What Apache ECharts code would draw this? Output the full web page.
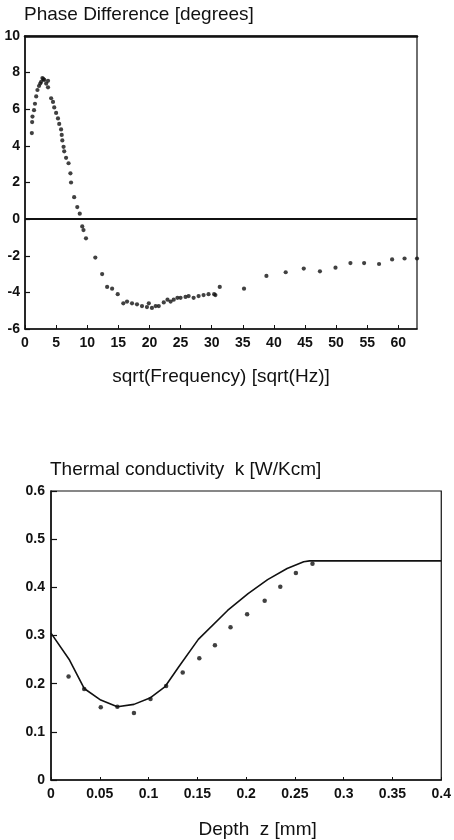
<!DOCTYPE html>
<html>
<head>
<meta charset="utf-8">
<script src="https://cdn.jsdelivr.net/npm/echarts@6/dist/echarts.min.js"></script>
<style>
html,body{margin:0;padding:0;background:#fff;}
#c{width:454px;height:840px;}
</style>
</head>
<body>
<div id="c"></div>
<script>
// ---- Top chart: phase difference vs sqrt(frequency) ----
var freqSqrt = [1.1,1.15,1.2,1.45,1.6,1.8,2.0,2.25,2.45,2.6,2.8,2.95,3.1,3.4,3.7,3.7,4.2,4.5,4.7,5.0,5.3,5.5,5.8,5.9,6.0,6.2,6.3,6.6,7.0,7.3,7.4,7.9,8.4,8.8,9.2,9.4,9.8,11.3,12.4,13.2,14.0,14.9,15.8,16.4,17.2,18.0,18.8,19.6,19.9,20.4,21.0,21.5,22.3,22.9,23.4,23.9,24.5,25.0,25.8,26.3,27.1,27.9,28.7,29.5,30.4,30.6,31.3,35.2,38.8,41.9,44.8,47.4,49.9,52.3,54.5,56.9,59.0,61.0,63.0];
var phaseDeg = [4.7,5.3,5.6,5.95,6.3,6.7,7.05,7.27,7.4,7.5,7.7,7.65,7.6,7.4,7.2,7.55,6.6,6.4,6.1,5.8,5.5,5.2,4.9,4.6,4.3,3.95,3.7,3.35,3.05,2.5,2.0,1.2,0.66,0.3,-0.4,-0.6,-1.05,-2.1,-3.0,-3.7,-3.8,-4.1,-4.6,-4.5,-4.6,-4.65,-4.75,-4.8,-4.6,-4.85,-4.75,-4.75,-4.55,-4.4,-4.5,-4.4,-4.3,-4.3,-4.25,-4.2,-4.3,-4.2,-4.15,-4.1,-4.1,-4.15,-3.7,-3.8,-3.1,-2.9,-2.7,-2.85,-2.65,-2.4,-2.4,-2.45,-2.2,-2.15,-2.15];
var phaseXTicks = [0,5,10,15,20,25,30,35,40,45,50,55,60];
var phaseYTicks = [-6,-4,-2,0,2,4,6,8,10];

// ---- Bottom chart: thermal conductivity vs depth ----
var depthLine = [0,0.019,0.034,0.051,0.068,0.085,0.102,0.117,0.131,0.151,0.181,0.202,0.222,0.242,0.259,0.265,0.4];
var kLine = [0.305,0.249,0.19,0.166,0.152,0.157,0.171,0.194,0.235,0.292,0.352,0.387,0.416,0.439,0.453,0.455,0.455];
var depthDots = [0.018,0.034,0.051,0.068,0.085,0.102,0.118,0.135,0.152,0.168,0.184,0.201,0.219,0.235,0.251,0.268];
var kDots = [0.215,0.189,0.151,0.152,0.139,0.168,0.195,0.223,0.253,0.28,0.317,0.344,0.372,0.401,0.43,0.449];

function zip(a,b){return a.map(function(v,i){return [v,b[i]];});}

var ink = '#111';
var fontFam = '"Liberation Sans", Arial, Helvetica, sans-serif';
var tickLbl = {color: ink, fontSize: 14, fontWeight: 'bold', fontFamily: fontFam};

var chart = echarts.init(document.getElementById('c'), null, {renderer: 'canvas'});
chart.setOption({
  backgroundColor: '#fff',
  animation: false,
  title: [
    {text: 'Phase Difference [degrees]', left: 24, top: 5, padding: 0,
     textStyle: {color: ink, fontSize: 19, fontWeight: 'normal', fontFamily: fontFam}},
    {text: 'Thermal conductivity  k [W/Kcm]', left: 50, top: 460, padding: 0,
     textStyle: {color: ink, fontSize: 19, fontWeight: 'normal', fontFamily: fontFam}}
  ],
  grid: [
    {left: 25, top: 36, width: 392, height: 293, show: true, borderColor: ink, borderWidth: 1.2, backgroundColor: 'transparent'},
    {left: 51, top: 491, width: 395, height: 291, show: true, borderColor: ink, borderWidth: 1.2, backgroundColor: 'transparent'}
  ],
  xAxis: [
    {gridIndex: 0, type: 'value', min: 0, max: 63, interval: 5,
     name: 'sqrt(Frequency) [sqrt(Hz)]', nameLocation: 'middle', nameGap: 38,
     nameTextStyle: {color: ink, fontSize: 19, fontFamily: fontFam},
     axisLine: {show: true, onZero: false, lineStyle: {color: ink, width: 1.5}},
     axisTick: {show: true, inside: true, length: 4, lineStyle: {color: ink}},
     axisLabel: Object.assign({margin: 7, showMaxLabel: false, formatter: function(v){return phaseXTicks.indexOf(v) >= 0 ? String(v) : '';}}, tickLbl),
     splitLine: {show: false}},
    {gridIndex: 0, type: 'value', position: 'top', min: 0, max: 63,
     axisLine: {show: true, onZero: false, lineStyle: {color: ink, width: 2.5}},
     axisTick: {show: false}, axisLabel: {show: false}, splitLine: {show: false}},
    {gridIndex: 1, type: 'value', min: 0, max: 0.4, interval: 0.05,
     name: 'Depth  z [mm]', nameLocation: 'middle', nameGap: 40,
     nameTextStyle: {color: ink, fontSize: 19, fontFamily: fontFam, padding: [0, 0, 0, 23]},
     axisLine: {show: true, onZero: false, lineStyle: {color: ink, width: 1.5}},
     axisTick: {show: true, inside: true, length: 3, lineStyle: {color: ink}},
     axisLabel: Object.assign({margin: 7}, tickLbl),
     splitLine: {show: false}}
  ],
  yAxis: [
    {gridIndex: 0, type: 'value', min: -6, max: 10, interval: 2,
     axisLine: {show: true, onZero: false, lineStyle: {color: ink, width: 1.5}},
     axisTick: {show: true, inside: true, length: 5, lineStyle: {color: ink, width: 1.2}},
     axisLabel: Object.assign({margin: 5, formatter: function(v){return phaseYTicks.indexOf(v) >= 0 ? String(v) : '';}}, tickLbl),
     splitLine: {show: false}},
    {gridIndex: 1, type: 'value', min: 0, max: 0.6, interval: 0.1,
     axisLine: {show: true, onZero: false, lineStyle: {color: ink, width: 1.5}},
     axisTick: {show: true, inside: true, length: 6, lineStyle: {color: ink, width: 1.2}},
     axisLabel: Object.assign({margin: 6}, tickLbl),
     splitLine: {show: false}}
  ],
  series: [
    {type: 'scatter', xAxisIndex: 0, yAxisIndex: 0, data: zip(freqSqrt, phaseDeg),
     symbol: 'circle', symbolSize: 4.2, itemStyle: {color: ink}, silent: true,
     markLine: {silent: true, symbol: ['none','none'], label: {show: false},
       lineStyle: {color: ink, width: 1.8, type: 'solid'}, data: [{yAxis: 0}]}},
    {type: 'line', xAxisIndex: 2, yAxisIndex: 1, data: zip(depthLine, kLine),
     symbol: 'none', lineStyle: {color: ink, width: 1.6}, silent: true},
    {type: 'scatter', xAxisIndex: 2, yAxisIndex: 1, data: zip(depthDots, kDots),
     symbol: 'circle', symbolSize: 4.5, itemStyle: {color: ink}, silent: true}
  ]
});
</script>
</body>
</html>
